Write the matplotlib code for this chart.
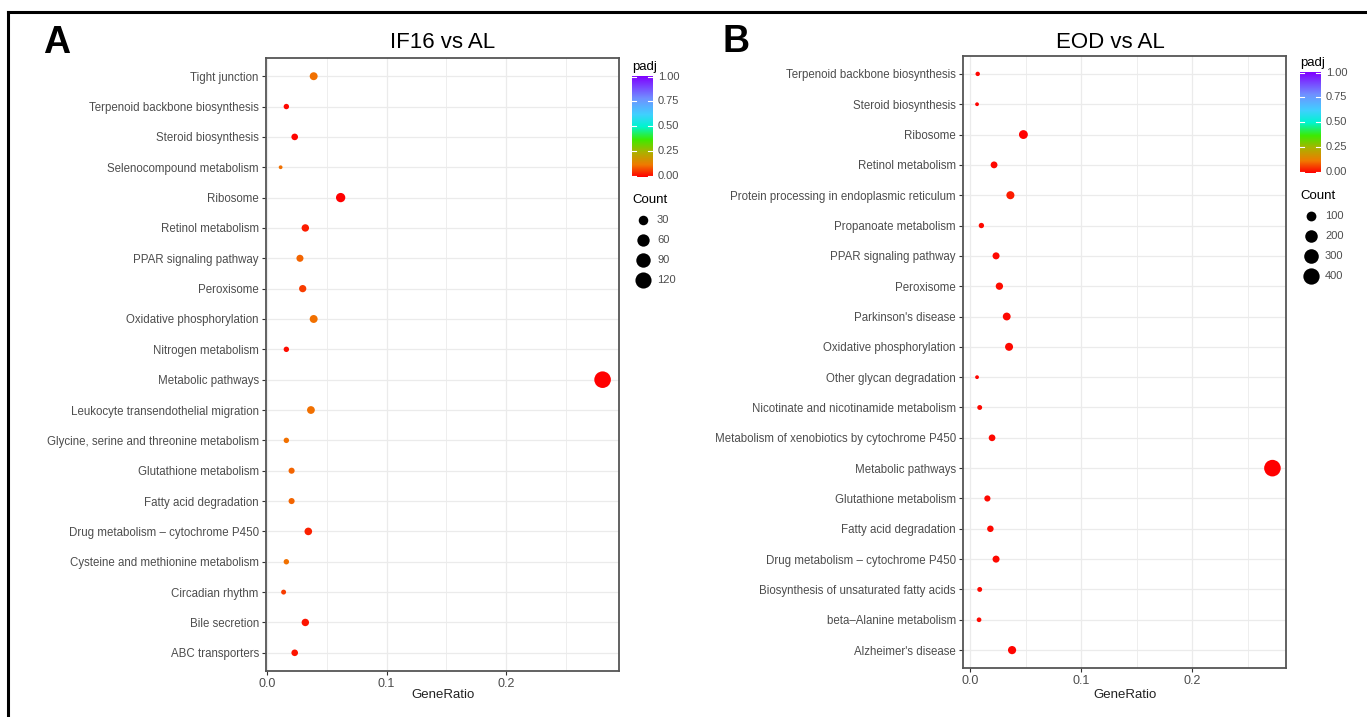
import numpy as np
import matplotlib
matplotlib.use("Agg")
import matplotlib.pyplot as plt
from matplotlib.colors import LinearSegmentedColormap, Normalize
from matplotlib.lines import Line2D

plt.rcParams['font.family'] = ['Liberation Sans', 'DejaVu Sans']

# ---- data (top row first) ----
terms_a = ["Tight junction", "Terpenoid backbone biosynthesis", "Steroid biosynthesis",
           "Selenocompound metabolism", "Ribosome", "Retinol metabolism",
           "PPAR signaling pathway", "Peroxisome", "Oxidative phosphorylation",
           "Nitrogen metabolism", "Metabolic pathways", "Leukocyte transendothelial migration",
           "Glycine, serine and threonine metabolism", "Glutathione metabolism",
           "Fatty acid degradation", "Drug metabolism \u2013 cytochrome P450",
           "Cysteine and methionine metabolism", "Circadian rhythm", "Bile secretion",
           "ABC transporters"]
ratio_a = [0.0389, 0.0160, 0.0230, 0.0112, 0.0615, 0.0319, 0.0274, 0.0297, 0.0389, 0.0160,
           0.2810, 0.0366, 0.0160, 0.0204, 0.0204, 0.0344, 0.0160, 0.0137, 0.0319, 0.0230]
count_a = [18, 7, 11, 5, 28, 15, 13, 14, 18, 7, 129, 17, 7, 9, 9, 16, 7, 6, 15, 11]
padj_a = [0.11, 0.01, 0.005, 0.11, 0.0, 0.03, 0.10, 0.06, 0.11, 0.015,
          0.0, 0.11, 0.11, 0.10, 0.10, 0.035, 0.11, 0.06, 0.02, 0.02]

terms_b = ["Terpenoid backbone biosynthesis", "Steroid biosynthesis", "Ribosome",
           "Retinol metabolism", "Protein processing in endoplasmic reticulum",
           "Propanoate metabolism", "PPAR signaling pathway", "Peroxisome",
           "Parkinson's disease", "Oxidative phosphorylation", "Other glycan degradation",
           "Nicotinate and nicotinamide metabolism", "Metabolism of xenobiotics by cytochrome P450",
           "Metabolic pathways", "Glutathione metabolism", "Fatty acid degradation",
           "Drug metabolism \u2013 cytochrome P450", "Biosynthesis of unsaturated fatty acids",
           "beta\u2013Alanine metabolism", "Alzheimer's disease"]
ratio_b = [0.0069, 0.0063, 0.0480, 0.0216, 0.0363, 0.0102, 0.0234, 0.0264, 0.0330, 0.0351,
           0.0063, 0.0087, 0.0198, 0.2720, 0.0156, 0.0183, 0.0234, 0.0087, 0.0081, 0.0378]
count_b = [11, 10, 74, 33, 56, 16, 36, 41, 51, 54, 10, 13, 31, 419, 24, 28, 36, 13, 12, 58]
padj_b = [0.005, 0.005, 0.0, 0.01, 0.03, 0.01, 0.01, 0.015, 0.01, 0.01,
          0.005, 0.01, 0.01, 0.0, 0.01, 0.01, 0.01, 0.01, 0.01, 0.005]

size_breaks_a = [30, 60, 90, 120]
size_breaks_b = [100, 200, 300, 400]

cmap = LinearSegmentedColormap.from_list("padj", [
    (0.0, "#FF0000"), (0.12, "#F07A00"), (0.25, "#A8B400"), (0.37, "#3CEB00"),
    (0.5, "#00F5D0"), (0.62, "#40D0FF"), (0.78, "#7090FF"), (1.0, "#8000FF")])
norm = Normalize(0, 1)

W, H = 1367, 717
fig = plt.figure(figsize=(W / 100, H / 100), dpi=100)

GREY30 = "#4D4D4D"
GRID = "#EBEBEB"


def diam_px(c, cmin, cmax):
    # area-like size scale, like ggplot's scale_size
    return 3.8 + 12.8 * np.sqrt((np.asarray(c, float) - cmin) / (cmax - cmin))


def px2pt(d):
    return (d * 72 / 100) ** 2


def panel(rect, terms, ratio, count, padj, xlim, title, title_x, xlabel_x):
    ax = fig.add_axes(rect)
    n = len(terms)
    y = np.arange(n)[::-1] + 1
    cmin, cmax = min(count), max(count)
    ax.scatter(ratio, y, s=px2pt(diam_px(count, cmin, cmax)), c=padj, cmap=cmap, norm=norm,
               edgecolors="none", zorder=3)
    ax.set_xlim(*xlim)
    ax.set_ylim(0.4, n + 0.6)
    ax.set_yticks(y)
    ax.set_yticklabels(terms, fontsize=8.3, color=GREY30)
    ax.set_xticks([0.0, 0.1, 0.2])
    ax.set_xticklabels(["0.0", "0.1", "0.2"], fontsize=9, color=GREY30)
    ax.set_xticks([0.05, 0.15, 0.25], minor=True)
    ax.grid(True, which="major", color=GRID, lw=0.9, zorder=0)
    ax.grid(True, which="minor", axis="x", color=GRID, lw=0.6, zorder=0)
    ax.set_axisbelow(True)
    ax.tick_params(which="major", length=3, width=0.8, color="#333333", pad=2)
    ax.tick_params(which="minor", length=0)
    for s in ax.spines.values():
        s.set_color("#555555")
        s.set_linewidth(1.3)
    fig.text(title_x / W, 1 - 42 / H, title, fontsize=16, ha="center", va="center")
    fig.text(xlabel_x / W, 1 - 695 / H, "GeneRatio", fontsize=9.5, color="#222222",
             ha="center", va="center")
    return ax


panel([265.7 / W, 1 - 671 / H, 353 / W, 613 / H], terms_a, ratio_a, count_a, padj_a,
      (-0.0013, 0.2945), "IF16 vs AL", 443, 443)
panel([962.7 / W, 1 - 668.3 / H, 323.3 / W, 612.6 / H], terms_b, ratio_b, count_b, padj_b,
      (-0.0066, 0.2842), "EOD vs AL", 1110, 1125)


def legend(x0, ytop, breaks, count):
    # colour bar
    cax = fig.add_axes([x0 / W, 1 - (ytop + 101) / H, 20.5 / W, 101 / H])
    grad = np.linspace(0, 1, 256).reshape(-1, 1)
    cax.imshow(grad, aspect="auto", cmap=cmap, origin="lower", extent=(0, 1, 0, 1))
    cax.set_xlim(0, 1)
    cax.set_ylim(0, 1)
    for v in [0, 0.25, 0.5, 0.75, 1.0]:
        yv = 0.01 + v * 0.98
        cax.plot([0, 0.2], [yv, yv], color="white", lw=0.8)
        cax.plot([0.8, 1], [yv, yv], color="white", lw=0.8)
        cax.text(1.25, yv, "%.2f" % v, transform=cax.transAxes, fontsize=8,
                 color=GREY30, va="center", ha="left")
    cax.axis("off")
    fig.text(x0 / W, 1 - (ytop - 9) / H, "padj", fontsize=9.5, ha="left", va="center")
    fig.text(x0 / W, 1 - (ytop + 124) / H, "Count", fontsize=9.5, ha="left", va="center")
    cmin, cmax = min(count), max(count)
    d = diam_px(breaks, cmin, cmax)
    for i, (b, di) in enumerate(zip(breaks, d)):
        yy = ytop + 144 + 20 * i
        fig.add_artist(Line2D([(x0 + 10.5) / W], [1 - yy / H], marker="o", ms=di * 0.72,
                              color="black", mec="none", transform=fig.transFigure))
        fig.text((x0 + 25) / W, 1 - yy / H, str(b), fontsize=8, color=GREY30,
                 ha="left", va="center")


legend(632, 75.7, size_breaks_a, count_a)
legend(1300, 71.7, size_breaks_b, count_b)

# panel letters
fig.text(57 / W, 1 - 43 / H, "A", fontsize=27, fontweight="bold", ha="center", va="center")
fig.text(736 / W, 1 - 42 / H, "B", fontsize=27, fontweight="bold", ha="center", va="center")

# outer frame (top + left)
fig.add_artist(Line2D([7.5 / W, 7.5 / W], [0, 1 - 11.5 / H], color="black", lw=2.2,
                      transform=fig.transFigure))
fig.add_artist(Line2D([7.5 / W, 1], [1 - 11.5 / H, 1 - 11.5 / H], color="black", lw=2.2,
                      transform=fig.transFigure))

fig.savefig("out.png", dpi=100)
